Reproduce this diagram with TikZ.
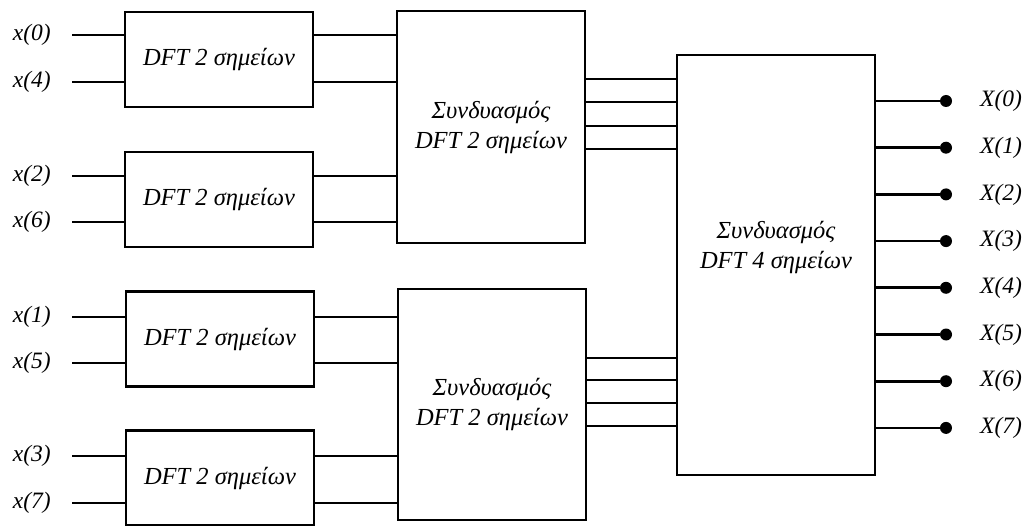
\documentclass[tikz,border=0pt]{standalone}
\usepackage{fontspec}
\setmainfont{Liberation Serif}
\usetikzlibrary{positioning}

\begin{document}
\begin{tikzpicture}[
    x=1pt, y=-1pt,
    block/.style={rectangle, draw, line width=2.8pt, inner sep=0pt, align=center, font=\fontsize{24.5}{30}\selectfont\itshape},
    dftbox/.style={block, minimum width=188pt, minimum height=95pt},
    wire/.style={line width=2.6pt},
    signal/.style={inner sep=0pt, font=\fontsize{23.5}{26}\selectfont\itshape},
    pin/.style={circle, fill, inner sep=0pt, minimum size=12pt}
]
    \useasboundingbox (0,0) rectangle (1035,526);

    % DFT 2 points
    \node[dftbox] (d1) at (219,59.5) {DFT 2 σημείων};
    \node[dftbox] (d2) at (219,199.5) {DFT 2 σημείων};
    \node[dftbox] (d3) at (220,339) {DFT 2 σημείων};
    \node[dftbox] (d4) at (220,478) {DFT 2 σημείων};

    % Combination stages
    \node[block, minimum width=188pt, minimum height=232pt] (c1) at (491,127) {Συνδυασμός\\DFT 2 σημείων};
    \node[block, minimum width=188pt, minimum height=231pt] (c2) at (492,404.5) {Συνδυασμός\\DFT 2 σημείων};
    \node[block, minimum width=198pt, minimum height=420pt] (c3) at (776,265) {Συνδυασμός\\DFT 4 σημείων\\[10pt]};

    % Inputs
    \foreach \k/\y/\d/\c in {0/35/d1/c1, 4/82/d1/c1, 2/176/d2/c1, 6/222/d2/c1,
                             1/317/d3/c2, 5/363/d3/c2, 3/456/d4/c2, 7/503/d4/c2} {
        \coordinate (i\k) at (72,\y);
        \node[signal, left=21pt of i\k] (x\k) {x(\k)};
        \draw[wire] (i\k) -- (\d.west |- i\k);
        \draw[wire] (\d.east |- i\k) -- (\c.west |- i\k);
    }

    % Connectors to the 4-point stage
    \foreach \y/\c in {79/c1, 102/c1, 126/c1, 149/c1, 358/c2, 380/c2, 403/c2, 426/c2} {
        \coordinate (m\y) at (600,\y);
        \draw[wire] (\c.east |- m\y) -- (c3.west |- m\y);
    }

    % Outputs
    \foreach \k in {0,...,7} {
        \node[pin] (o\k) at (946,101+46.7*\k) {};
        \node[signal, right=34pt of o\k.center] (X\k) {X(\k)};
        \draw[wire] (c3.east |- o\k) -- (o\k);
    }
\end{tikzpicture}
\end{document}
